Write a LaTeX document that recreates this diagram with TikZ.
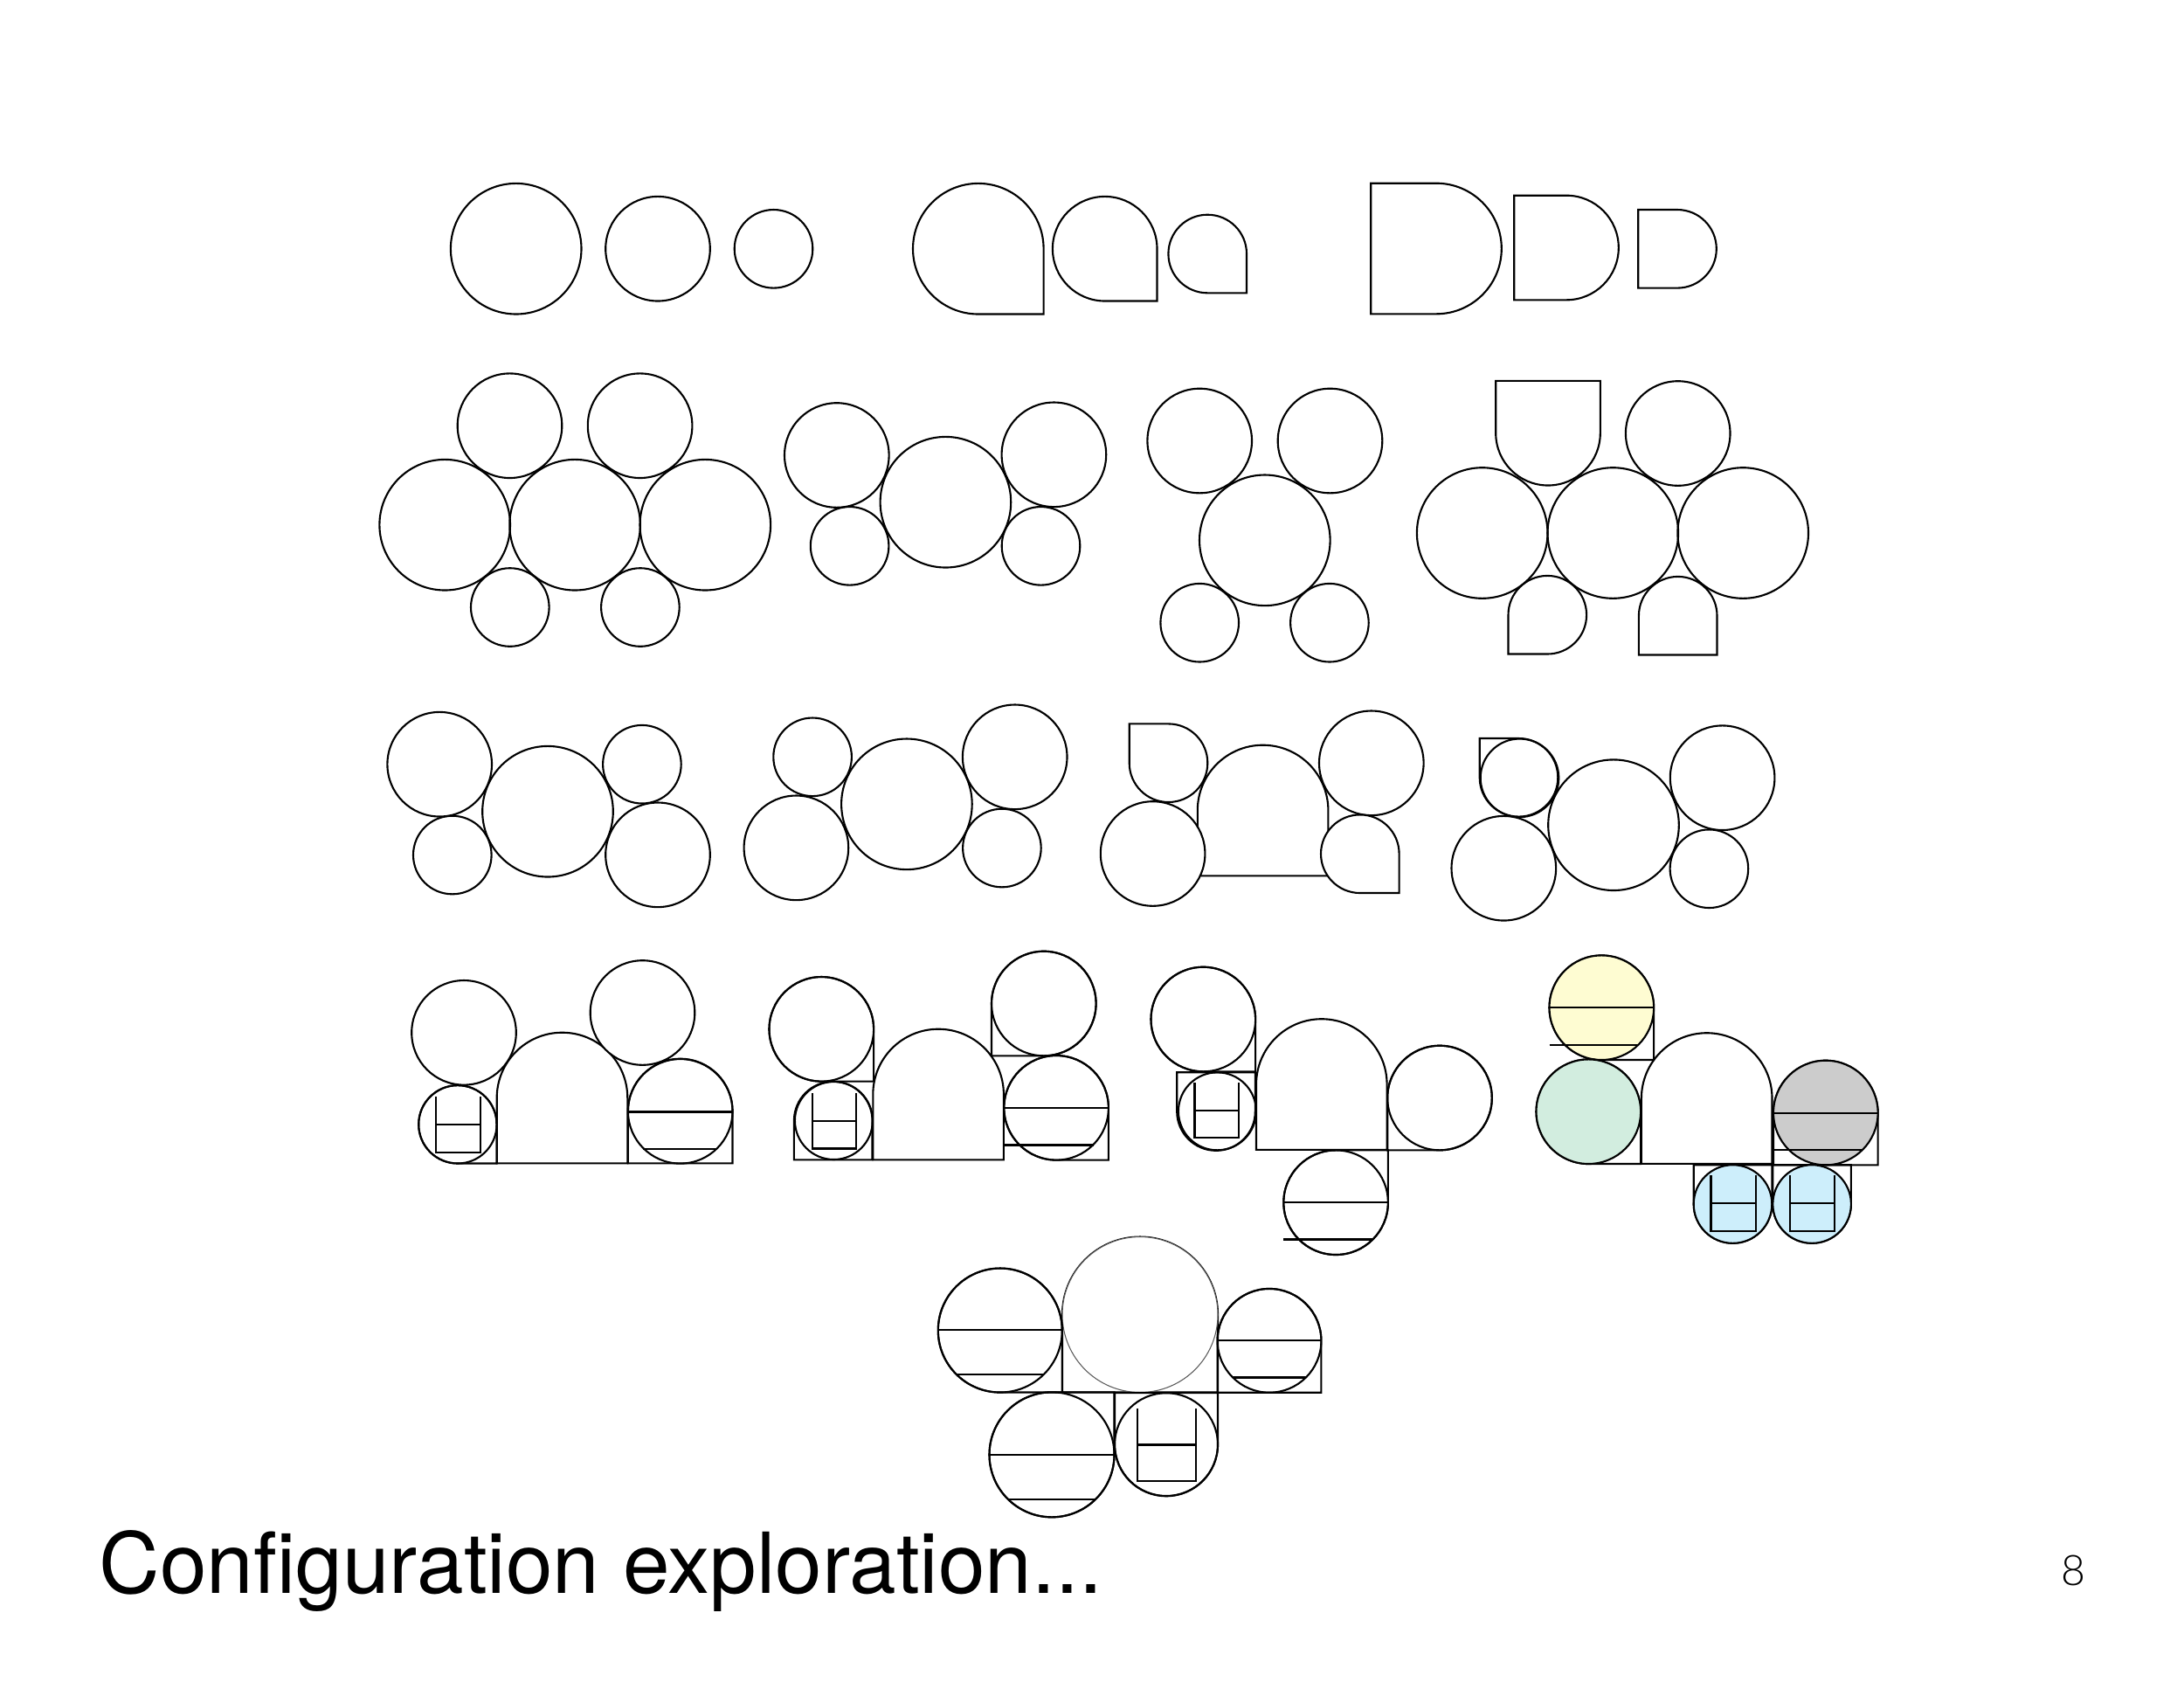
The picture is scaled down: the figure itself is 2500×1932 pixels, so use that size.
\documentclass[tikz,border=0pt]{standalone}
\usepackage{fontspec}
\setmainfont{TeX Gyre Heros}
\newfontfamily\pagenofont{Lato Light}
\definecolor{cyel}{HTML}{FEFCD2}
\definecolor{cgrn}{HTML}{D2EDDF}
\definecolor{cblu}{HTML}{CDEEFB}
\definecolor{cgry}{HTML}{CCCCCC}
\tikzset{
  sh/.style={draw=black,line width=0.6pt},
  shw/.style={sh,fill=white},
  thinsh/.style={draw=black!65,line width=0.3pt},
}
% full circle: [style]{x}{y}{r}
\newcommand{\shCirc}[4][sh]{\path[#1] (#2,#3) circle [radius=#4];}
% circle with one square corner; a = 0 BR, 90 BL, 180 TL, 270 TR
\newcommand{\shTear}[5][sh]{\path[#1]
  ([shift={(#2,#3)}]{#5}:{#4}) -- ([shift={(#2,#3)}]{#5+45}:{#4*1.41421}) -- ([shift={(#2,#3)}]{#5+90}:{#4})
  arc [start angle={#5+90},delta angle=270,radius=#4] -- cycle;}
% half circle with two square corners; a = 0 flat bottom, 90 flat left, 180 flat top
\newcommand{\shDbl}[5][sh]{\path[#1]
  ([shift={(#2,#3)}]{#5}:{#4}) -- ([shift={(#2,#3)}]{#5+45}:{#4*1.41421}) -- ([shift={(#2,#3)}]{#5+135}:{#4*1.41421}) -- ([shift={(#2,#3)}]{#5+180}:{#4})
  arc [start angle={#5+180},delta angle=180,radius=#4] -- cycle;}
% stripes
\newcommand{\shStripe}[3]{\draw[sh] ({#1-#3},#2) -- ({#1+#3},#2);
  \draw[sh] ({#1-0.71*#3},{#2+0.71*#3}) -- ({#1+0.71*#3},{#2+0.71*#3});}
\newcommand{\shStripeL}[3]{\draw[sh] ({#1-#3},#2) -- ({#1+#3},#2);
  \draw[sh] ({#1-#3},{#2+0.71*#3}) -- ({#1+0.71*#3},{#2+0.71*#3});}
% H glyph
\newcommand{\shAitch}[3]{\draw[sh] ({#1-0.57*#3},{#2-0.71*#3}) -- ({#1-0.57*#3},{#2+0.71*#3}) -- ({#1+0.57*#3},{#2+0.71*#3}) -- ({#1+0.57*#3},{#2-0.71*#3});
  \draw[sh] ({#1-0.57*#3},#2) -- ({#1+0.57*#3},#2);}
\begin{document}
\begin{tikzpicture}[x=0.01cm,y=-0.01cm]
\useasboundingbox (0,0) rectangle (2500,1932);
\fill[white] (0,0) rectangle (2500,1932);
% ---- row 1
\shCirc{590.7}{284.7}{74.8}
\shCirc{753}{284.7}{59.8}
\shCirc{885.5}{284.8}{44.8}
\shTear{1119.8}{284.7}{74.8}{0}
\shTear{1264.7}{284.7}{59.8}{0}
\shTear{1382.2}{290.5}{44.8}{0}
\shDbl{1644}{284.5}{74.8}{90}
\shDbl{1793}{283.5}{59.8}{90}
\shDbl{1920}{284.8}{44.8}{90}
% ---- row 2
\shCirc{583.5}{487.2}{59.8}
\shCirc{732.6}{487.2}{59.8}
\shCirc{509.2}{600.7}{74.8}
\shCirc{658.1}{600.7}{74.8}
\shCirc{807.3}{600.7}{74.8}
\shCirc{583.8}{695}{44.8}
\shCirc{732.9}{695}{44.8}
\shCirc{957.8}{521}{59.8}
\shCirc{1082.4}{574.7}{74.8}
\shCirc{1206.4}{520.3}{59.8}
\shCirc{972.6}{624.8}{44.8}
\shCirc{1191.5}{624.8}{44.8}
\shCirc{1373.2}{504.5}{59.8}
\shCirc{1522.5}{504.5}{59.8}
\shCirc{1447.8}{618.3}{74.8}
\shCirc{1373.2}{712.7}{44.8}
\shCirc{1521.9}{712.7}{44.8}
\shDbl{1772}{495.7}{59.8}{180}
\shCirc{1920.7}{496}{59.8}
\shCirc{1696.7}{610}{74.8}
\shCirc{1846.3}{610}{74.8}
\shCirc{1995.2}{610}{74.8}
\shTear{1771.3}{703.7}{44.8}{90}
\shDbl{1920.7}{704.7}{44.8}{0}
\begin{scope}[shift={(0,1.5)}]
% ---- row 3
\shCirc{503.2}{873.2}{59.8}
\shCirc{627}{927.2}{74.8}
\shCirc{734.9}{873.2}{44.8}
\shCirc{517.8}{977}{44.8}
\shCirc{753}{976.8}{59.8}
\shCirc{930.1}{864.8}{44.8}
\shCirc{1037.9}{918.8}{74.8}
\shCirc{1161.7}{864.8}{59.8}
\shCirc{911.4}{968.8}{59.8}
\shCirc{1146.9}{969}{44.8}
\shDbl{1445.6}{926}{74.8}{0}
\shTear[shw]{1337.5}{871.7}{44.8}{180}
\shCirc[shw]{1319.6}{975.5}{59.8}
\shCirc[shw]{1569.8}{871.8}{59.8}
\shTear[shw]{1556.8}{975.7}{44.8}{0}
\shTear{1738.5}{888.3}{44.8}{180}
\shCirc{1739.5}{888.8}{44.8}
\shCirc{1847}{942.7}{74.8}
\shCirc{1971.6}{888.7}{59.8}
\shCirc{1956.4}{992.7}{44.8}
\shCirc{1721.3}{992.2}{59.8}
% ---- row 4, group 1
\shDbl{643.5}{1255}{74.8}{0}
\shCirc[shw]{531}{1180.3}{59.8}
\shCirc[shw]{735.5}{1157.5}{59.8}
\shTear{523.9}{1285.3}{44.7}{0}
\shCirc{523.9}{1285.3}{44.7}
\shAitch{524.1}{1285.5}{44.7}
\shDbl{778.7}{1270}{59.8}{0}
\shCirc{778.7}{1270.3}{59.8}
\shStripe{778.7}{1271}{59.8}
% ---- row 4, group 2
\shDbl{1074.1}{1251}{74.8}{0}
\shTear{940.3}{1176.3}{59.8}{0}
\shCirc{940.3}{1176.3}{59.8}
\shDbl{953.7}{1281}{44.8}{0}
\shCirc{954.4}{1281}{44.5}
\shAitch{955}{1281.4}{44.5}
\shTear{1194.8}{1147}{59.8}{90}
\shCirc{1194.8}{1147}{59.8}
\shTear{1209.1}{1266.3}{59.8}{0}
\shCirc{1209.1}{1266.3}{59.8}
\shStripeL{1209.1}{1266.5}{59.8}
% ---- row 4, group 3
\shDbl{1512.8}{1239.5}{74.8}{0}
\shTear{1377.3}{1165}{59.8}{0}
\shCirc{1377.3}{1165}{59.8}
\shDbl{1392}{1270.5}{44.8}{180}
\shCirc{1393.4}{1270.3}{44.5}
\shAitch{1392.9}{1269.3}{44.5}
\shTear{1648}{1255}{59.8}{90}
\shCirc{1648}{1255}{59.8}
\shTear{1529.1}{1374.7}{59.8}{270}
\shCirc{1529.1}{1374.7}{59.8}
\shStripeL{1529.1}{1374.5}{59.8}
% ---- row 4, group 4
\shDbl{1953.7}{1255.5}{74.8}{0}
\shTear{1833.3}{1151.7}{59.8}{0}
\shCirc[sh,fill=cyel]{1833.3}{1151.7}{59.8}
\shStripeL{1833.3}{1151.7}{59.8}
\shTear{1818.3}{1270.7}{59.8}{0}
\shCirc[sh,fill=cgrn]{1818.3}{1270.7}{59.8}
\shDbl{2089.8}{1272}{59.8}{0}
\shCirc[sh,fill=cgry]{2089.8}{1272}{59.8}
\shStripeL{2089.8}{1272.3}{59.8}
\shDbl{1983.5}{1376.5}{44.8}{180}
\shDbl{2074.1}{1376.5}{44.8}{180}
\shCirc[sh,fill=cblu]{1983.5}{1376.5}{44.8}
\shCirc[sh,fill=cblu]{2074.1}{1376.5}{44.8}
\shAitch{1984}{1375.5}{44.8}
\shAitch{2074.6}{1375.5}{44.8}
% ---- row 5
\shDbl{1305}{1503}{89}{0}
\shCirc[thinsh,fill=white]{1305}{1503}{89}
\shDbl{1453}{1532.8}{59.4}{0}
\shCirc{1453}{1532.8}{59.4}
\shStripe{1453}{1532.8}{59.4}
\shTear{1144.8}{1521}{71}{0}
\shCirc{1144.8}{1521}{71}
\shStripe{1144.8}{1520.7}{71}
\shTear{1204}{1663.3}{71.5}{270}
\shCirc{1204}{1663.3}{71.5}
\shStripe{1204}{1663.3}{71.5}
\shDbl{1335}{1651.5}{59}{180}
\shCirc{1335}{1651.7}{59}
\shAitch{1335.5}{1652}{59}
\end{scope}
% ---- texts
\node[anchor=base west,inner sep=0pt,font=\fontsize{27.4pt}{31pt}\selectfont] (title) at (113,1823.5) {Configuration exploration...};
\node[anchor=base,inner sep=0pt,font=\pagenofont\fontsize{13.7pt}{16pt}\selectfont] (pageno) at (2373,1814) {8};
\end{tikzpicture}
\end{document}
